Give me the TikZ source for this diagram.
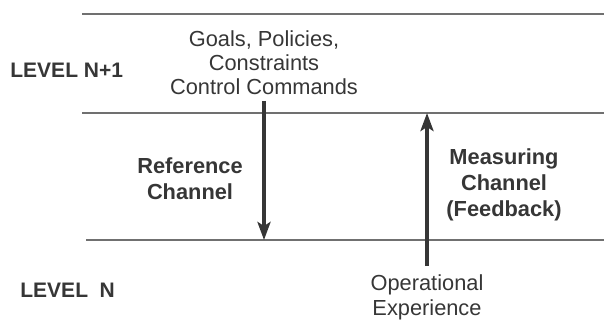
\documentclass[tikz,border=0pt]{standalone}
\usepackage{fontspec}
\setmainfont{Liberation Sans}
\usetikzlibrary{arrows.meta}
\definecolor{ink}{HTML}{363636}
\definecolor{rulegray}{HTML}{707070}
\tikzset{
  levelline/.style={rulegray, line width=1pt},
  channel/.style={ink, line width=2pt, -{Stealth[length=9pt,width=6.5pt,inset=2pt]}},
  lbl/.style={ink, inner sep=0pt, align=center, font=\fontsize{10.9}{12}\selectfont},
  boldlbl/.style={ink, inner sep=0pt, align=center, font=\fontsize{10.9}{13}\selectfont\bfseries},
  levellbl/.style={ink, inner sep=0pt, anchor=west, font=\fontsize{10.5}{12}\selectfont\bfseries},
}
\begin{document}
\begin{tikzpicture}[x=0.5pt, y=-0.5pt]
\useasboundingbox (0,0) rectangle (604,336);

% level boundaries
\draw[levelline] (82,14) -- (604,14) ;
\draw[levelline] (82,113) -- (604,113) ;
\draw[levelline] (86,240) -- (604,240) ;

% level names
\node[levellbl] (upper) at (10,70.5) {LEVEL N+1};
\node[levellbl] (lower) at (20,290.5) {LEVEL\ \ N};

% texts
\node[lbl, anchor=south, inner sep=3pt] (goals) at (264,101) {Goals, Policies,\\Constraints\\Control Commands};
\node[lbl, anchor=north, inner sep=4pt, font=\fontsize{10.9}{12.5}\selectfont] (oper) at (427,266) {Operational\\Experience};
\node[boldlbl] (refch) at (190,178.5) {Reference\\Channel};
\node[boldlbl, anchor=north] (measch) at (504,148) {Measuring\\Channel\\(Feedback)};

% channels
\coordinate (refend) at (264,240);
\coordinate (measend) at (427,113);
\draw[channel] (goals.south) -- (refend);
\draw[channel] (oper.north) -- (measend);
\end{tikzpicture}
\end{document}
